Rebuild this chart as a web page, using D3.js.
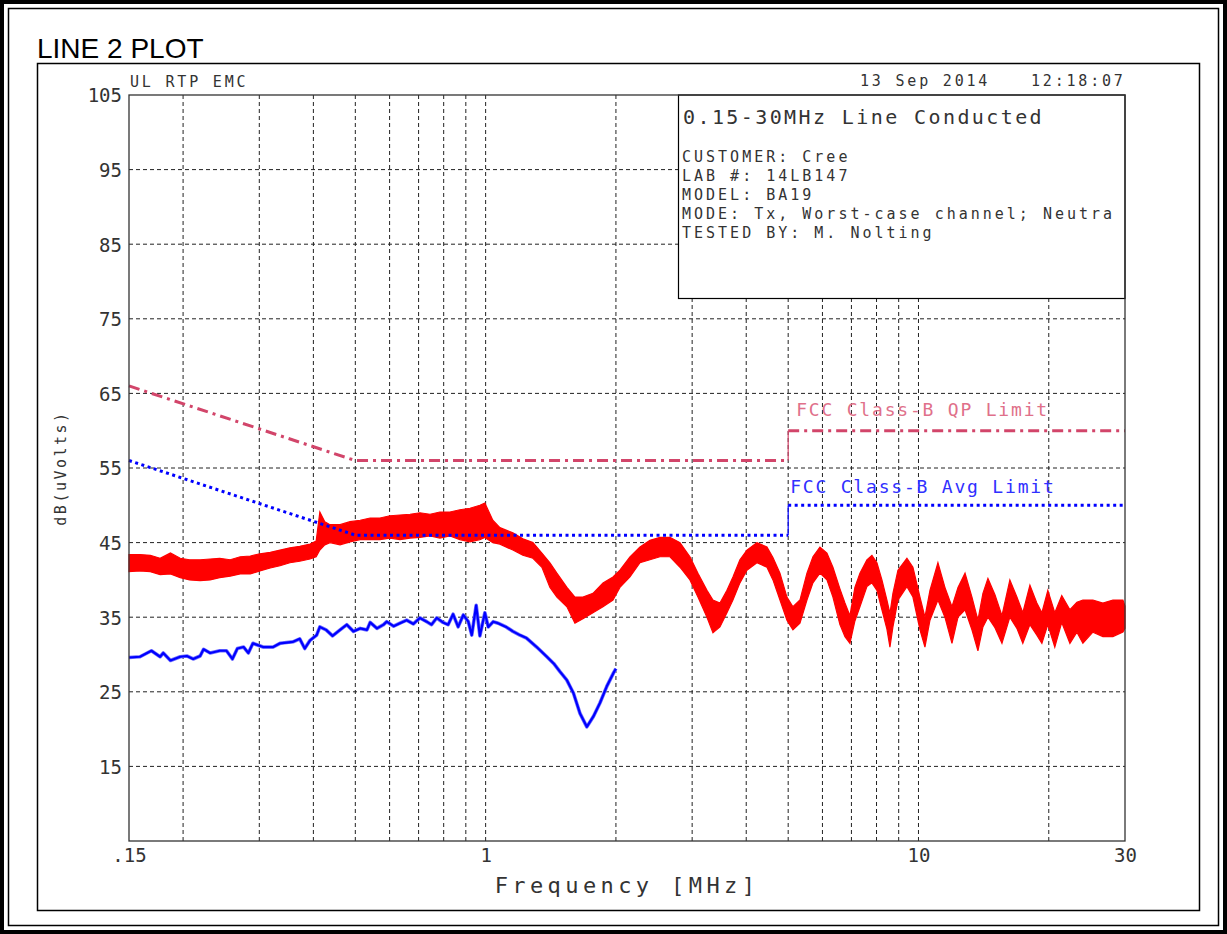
<!DOCTYPE html>
<html><head><meta charset="utf-8">
<script src="https://cdn.jsdelivr.net/npm/d3@7"></script>
<style>body{margin:0;background:#fff}svg{display:block}</style>
</head><body>
<svg id="c" width="1227" height="934"></svg>
<script>
// ---- data ----
const yTickValues = [105, 95, 85, 75, 65, 55, 45, 35, 25, 15];
const xTickValues = [0.15, 1, 10, 30];
const xTickText = [".15", "1", "10", "30"];
const gridFreqs = [0.2,0.3,0.4,0.5,0.6,0.7,0.8,0.9,1,2,3,4,5,6,7,8,9,10,20];
const gridLevels = [15,25,35,45,55,65,75,85,95];

const qpFreq = [0.15, 0.5, 5];
const qpLevel = [66, 56, 56];
const qpUpperFreq = [5, 30];
const qpUpperLevel = [60, 60];
const avgLimFreq = [0.15, 0.5, 5];
const avgLimLevel = [56, 46, 46];
const avgLimUpperFreq = [5, 30];
const avgLimUpperLevel = [50, 50];

const redFreq = [0.15,0.159,0.168,0.177,0.187,0.197,0.207,0.219,0.231,0.243,0.257,0.271,0.286,0.301,0.318,0.335,0.353,0.372,0.393,0.406,
 0.414,0.425,0.437,0.461,0.486,0.513,0.541,0.570,0.601,0.634,0.669,0.705,0.744,0.784,0.827,0.872,0.920,0.970,0.996,1.039,
 1.079,1.156,1.219,1.286,1.349,1.408,1.461,1.541,1.608,1.678,1.770,1.867,1.969,2.043,2.155,2.273,2.397,2.528,2.666,2.812,
 2.965,3.094,3.246,3.351,3.478,3.610,3.727,3.868,4.015,4.234,4.466,4.611,4.786,4.967,5.128,5.323,5.525,5.704,5.920,6.145,
 6.344,6.585,6.763,6.944,7.131,7.324,7.601,7.806,8.017,8.233,8.455,8.591,8.729,8.965,9.404,9.709,10.08,10.35,10.63,11.09,
 11.51,11.95,12.34,12.81,13.29,13.72,14.09,14.47,15.02,15.59,16.26,16.88,17.42,18.09,18.77,19.28,19.90,20.65,21.43,22.38,
 23.23,23.98,25.29,26.67,28.13,29.67,30];
const redLow = [41.1,41.2,41.1,40.7,40.8,40.3,40.0,39.9,40.0,40.3,40.5,40.8,40.8,41.2,41.6,41.9,42.3,42.5,42.8,43.1,
 44.0,44.7,45.0,44.7,45.1,45.4,45.4,45.4,45.6,45.4,45.6,45.7,45.9,45.6,45.9,45.4,45.1,45.4,45.7,45.0,
 44.8,44.0,43.3,42.9,41.7,39.0,37.7,36.4,34.2,34.8,35.6,36.4,37.3,39.0,40.4,42.3,42.7,43.1,43.1,41.7,
 40.0,37.7,35.0,32.9,33.7,35.6,37.3,39.6,41.3,42.3,41.7,40.0,37.3,34.6,33.3,34.2,37.3,39.6,40.9,40.0,
 37.7,34.0,32.4,31.5,34.5,36.4,39.1,39.6,38.6,36.0,33.4,31.0,33.7,37.3,39.1,37.7,33.3,31.0,34.6,37.3,
 35.0,31.5,35.0,36.0,33.3,30.5,33.7,35.0,33.6,31.5,35.0,33.5,31.5,34.0,32.6,31.5,34.0,31.0,34.3,31.5,
 33.0,31.5,33.0,32.4,32.4,33.0,33.5];
const redHigh = [43.4,43.4,43.3,42.9,43.6,42.9,42.7,42.7,42.8,42.9,42.7,43.1,43.2,43.5,43.7,44.0,44.3,44.5,44.8,45.2,
 49.1,47.8,47.4,47.4,47.8,48.0,48.3,48.3,48.6,48.7,48.8,49.0,48.8,49.1,49.1,49.4,49.6,50.0,50.3,48.0,
 47.0,46.3,45.5,45.0,43.6,42.3,40.9,39.0,37.7,37.7,38.2,39.6,40.4,41.3,43.1,44.4,45.3,45.7,45.7,45.0,
 43.1,40.9,38.6,37.3,36.9,38.6,40.4,42.7,44.0,45.0,44.4,43.0,40.9,37.7,36.4,37.3,40.9,43.1,44.4,43.6,
 41.7,38.8,36.9,35.2,39.0,40.9,42.7,43.3,42.3,40.0,37.3,35.5,38.2,41.3,42.9,41.7,37.7,35.0,38.6,42.3,
 39.0,36.4,39.0,40.9,37.7,34.6,38.2,40.2,38.0,35.2,40.0,37.7,35.6,39.3,36.9,35.6,38.6,35.6,37.9,36.0,
 37.0,37.3,37.3,36.9,37.3,37.3,36.5];

const avgFreq = [0.15,0.159,0.169,0.177,0.180,0.187,0.197,0.204,0.211,0.219,0.223,0.231,0.243,0.252,0.260,0.267,0.276,0.283,0.290,0.306,
 0.323,0.335,0.359,0.372,0.382,0.393,0.407,0.414,0.428,0.443,0.461,0.478,0.495,0.513,0.532,0.541,0.561,0.581,0.591,0.613,
 0.634,0.657,0.681,0.705,0.731,0.750,0.771,0.797,0.819,0.841,0.864,0.888,0.912,0.929,0.951,0.970,0.996,1.014,1.041,1.068,
 1.115,1.156,1.200,1.243,1.312,1.385,1.436,1.485,1.539,1.596,1.652,1.713,1.774,1.837,1.904,1.973,2.0];
const avgLevel = [29.6,29.7,30.5,29.7,30.2,29.2,29.7,29.8,29.4,29.8,30.7,30.2,30.5,30.5,29.4,30.8,31.0,30.2,31.5,31.0,
 31.0,31.5,31.7,32.1,30.8,31.9,32.6,33.7,33.3,32.5,33.3,34.0,33.1,33.5,33.3,34.3,33.5,34.0,34.4,33.8,
 34.2,34.6,34.1,34.9,34.4,34.0,34.9,34.3,34.0,35.4,33.7,35.3,34.4,32.6,36.6,32.5,35.6,33.7,34.4,34.2,
 33.7,33.1,32.6,32.2,31.0,29.7,28.8,27.7,26.6,24.8,22.1,20.3,21.7,23.5,25.7,27.5,28.1];

const infoLines = ["CUSTOMER: Cree", "LAB #: 14LB147", "MODEL: BA19", "MODE: Tx, Worst-case channel; Neutra", "TESTED BY: M. Nolting"];

// ---- drawing ----
const svg = d3.select("#c");
const W = 1227, H = 934;
const L = 129, R = 1125, T = 95, B = 841;
const x = d3.scaleLog().domain([0.15, 30]).range([L, R]);
const y = d3.scaleLinear().domain([5, 105]).range([B, T]);
const mono = "'DejaVu Sans Mono', 'Liberation Mono', monospace";
const txtCol = "#333";

svg.append("rect").attr("width", W).attr("height", H).attr("fill", "#fff");
// outer double frame
svg.append("rect").attr("x", 2).attr("y", 2).attr("width", W - 4).attr("height", H - 4)
  .attr("fill", "none").attr("stroke", "#000").attr("stroke-width", 4);
svg.append("rect").attr("x", 8.5).attr("y", 8.5).attr("width", W - 17).attr("height", H - 17)
  .attr("fill", "none").attr("stroke", "#000").attr("stroke-width", 1.5);
// inner box
svg.append("rect").attr("x", 37.5).attr("y", 63.5).attr("width", 1162).attr("height", 847)
  .attr("fill", "none").attr("stroke", "#000").attr("stroke-width", 1.5);
svg.append("text").attr("x", 37).attr("y", 58).text("LINE 2 PLOT")
  .attr("font-family", "'Liberation Sans', Arial, sans-serif").attr("font-size", 28).attr("fill", "#000");

// grid
const gridG = svg.append("g");
gridG.selectAll("line.v").data(gridFreqs).join("line")
  .attr("x1", d => x(d)).attr("x2", d => x(d)).attr("y1", T).attr("y2", B)
  .attr("stroke", "#222").attr("stroke-width", 1).attr("stroke-dasharray", "4,3");
gridG.selectAll("line.h").data(gridLevels).join("line")
  .attr("class", "h")
  .attr("x1", L).attr("x2", R).attr("y1", d => y(d)).attr("y2", d => y(d))
  .attr("stroke", "#222").attr("stroke-width", 1).attr("stroke-dasharray", "4,3");

// info box (covers grid)
svg.append("rect").attr("x", 678.5).attr("y", T).attr("width", R - 678.5).attr("height", 203.5)
  .attr("fill", "#fff").attr("stroke", "#000").attr("stroke-width", 1.2);
svg.append("text").attr("x", 683).attr("y", 124).text("0.15-30MHz Line Conducted")
  .attr("font-family", mono).attr("font-size", 20).attr("letter-spacing", 2.4).attr("fill", txtCol);
svg.selectAll("text.info").data(infoLines).join("text").attr("class", "info")
  .attr("x", 682).attr("y", (d, i) => 162 + i * 19).text(d => d)
  .attr("font-family", mono).attr("font-size", 15).attr("letter-spacing", 3).attr("fill", txtCol);

// red trace band
const redData = d3.zip(redFreq, redLow, redHigh);
svg.append("path").datum(redData)
  .attr("d", d3.area().x(d => x(d[0])).y0(d => y(d[1])).y1(d => y(d[2])))
  .attr("fill", "#ff0000").attr("stroke", "#ff0000").attr("stroke-width", 1.2);

// blue average trace
const avgData = d3.zip(avgFreq, avgLevel);
const lineF = d3.line().x(d => x(d[0])).y(d => y(d[1]));
svg.append("path").datum(avgData).attr("d", lineF)
  .attr("fill", "none").attr("stroke", "#7070ff").attr("stroke-width", 3.6).attr("stroke-linejoin", "round");
svg.append("path").datum(avgData).attr("d", lineF)
  .attr("fill", "none").attr("stroke", "#0000ff").attr("stroke-width", 2.2).attr("stroke-linejoin", "round");

// limits
const qpCol = "#d2456a", avgCol = "#0000ff";
svg.append("path").datum(d3.zip(qpFreq, qpLevel)).attr("d", lineF)
  .attr("fill", "none").attr("stroke", qpCol).attr("stroke-width", 3).attr("stroke-dasharray", "11,5,3,5");
svg.append("path").datum(d3.zip(qpUpperFreq, qpUpperLevel)).attr("d", lineF)
  .attr("fill", "none").attr("stroke", qpCol).attr("stroke-width", 3).attr("stroke-dasharray", "11,5,3,5");
svg.append("path").datum([[qpFreq[2], qpLevel[2]], [qpUpperFreq[0], qpUpperLevel[0]]]).attr("d", lineF)
  .attr("fill", "none").attr("stroke", qpCol).attr("stroke-width", 1.2);
svg.append("path").datum(d3.zip(avgLimFreq, avgLimLevel)).attr("d", lineF)
  .attr("fill", "none").attr("stroke", avgCol).attr("stroke-width", 3).attr("stroke-dasharray", "3,3.5");
svg.append("path").datum(d3.zip(avgLimUpperFreq, avgLimUpperLevel)).attr("d", lineF)
  .attr("fill", "none").attr("stroke", avgCol).attr("stroke-width", 3).attr("stroke-dasharray", "3,3.5");
svg.append("path").datum([[avgLimFreq[2], avgLimLevel[2]], [avgLimUpperFreq[0], avgLimUpperLevel[0]]]).attr("d", lineF)
  .attr("fill", "none").attr("stroke", avgCol).attr("stroke-width", 1.2);

svg.append("text").attr("x", x(5) + 8).attr("y", y(qpUpperLevel[0]) - 15).text("FCC Class-B QP Limit")
  .attr("font-family", mono).attr("font-size", 18).attr("letter-spacing", 1.8).attr("fill", "#e0708a");
svg.append("text").attr("x", x(5) + 2).attr("y", y(avgLimUpperLevel[0]) - 12).text("FCC Class-B Avg Limit")
  .attr("font-family", mono).attr("font-size", 18).attr("letter-spacing", 1.8).attr("fill", "#3030ff");

// frame
svg.append("rect").attr("x", L).attr("y", T).attr("width", R - L).attr("height", B - T)
  .attr("fill", "none").attr("stroke", "#333").attr("stroke-width", 1.3);

// axes
const yAxis = svg.append("g").attr("transform", `translate(${L},0)`)
  .call(d3.axisLeft(y).tickValues(yTickValues).tickSize(0).tickPadding(7));
yAxis.select(".domain").remove();
yAxis.selectAll("text").attr("font-family", mono).attr("font-size", 19).attr("fill", txtCol)
  .attr("dy", "0.36em");

const xAxis = svg.append("g").attr("transform", `translate(0,${B})`)
  .call(d3.axisBottom(x).tickValues(xTickValues).tickSize(0).tickPadding(4)
    .tickFormat((d, i) => xTickText[i]));
xAxis.select(".domain").remove();
xAxis.selectAll("text").attr("font-family", mono).attr("font-size", 19).attr("fill", txtCol)
  .attr("dy", "0.9em");

svg.append("text").attr("x", (L + R) / 2).attr("y", 893).attr("text-anchor", "middle")
  .text("Frequency [MHz]").attr("font-family", mono).attr("font-size", 22)
  .attr("letter-spacing", 4.4).attr("fill", txtCol);
svg.append("text").attr("transform", `translate(66,${(T + B) / 2}) rotate(-90)`)
  .attr("text-anchor", "middle").text("dB(uVolts)")
  .attr("font-family", mono).attr("font-size", 15).attr("letter-spacing", 2.5).attr("fill", txtCol);

// header texts
svg.append("text").attr("x", 130).attr("y", 87).text("UL RTP EMC")
  .attr("font-family", mono).attr("font-size", 15).attr("letter-spacing", 2.8).attr("fill", txtCol);
svg.append("text").attr("x", 860).attr("y", 86).text("13 Sep 2014")
  .attr("font-family", mono).attr("font-size", 15).attr("letter-spacing", 2.8).attr("fill", txtCol);
svg.append("text").attr("x", 1031).attr("y", 86).text("12:18:07")
  .attr("font-family", mono).attr("font-size", 15).attr("letter-spacing", 2.8).attr("fill", txtCol);
</script>
</body></html>
